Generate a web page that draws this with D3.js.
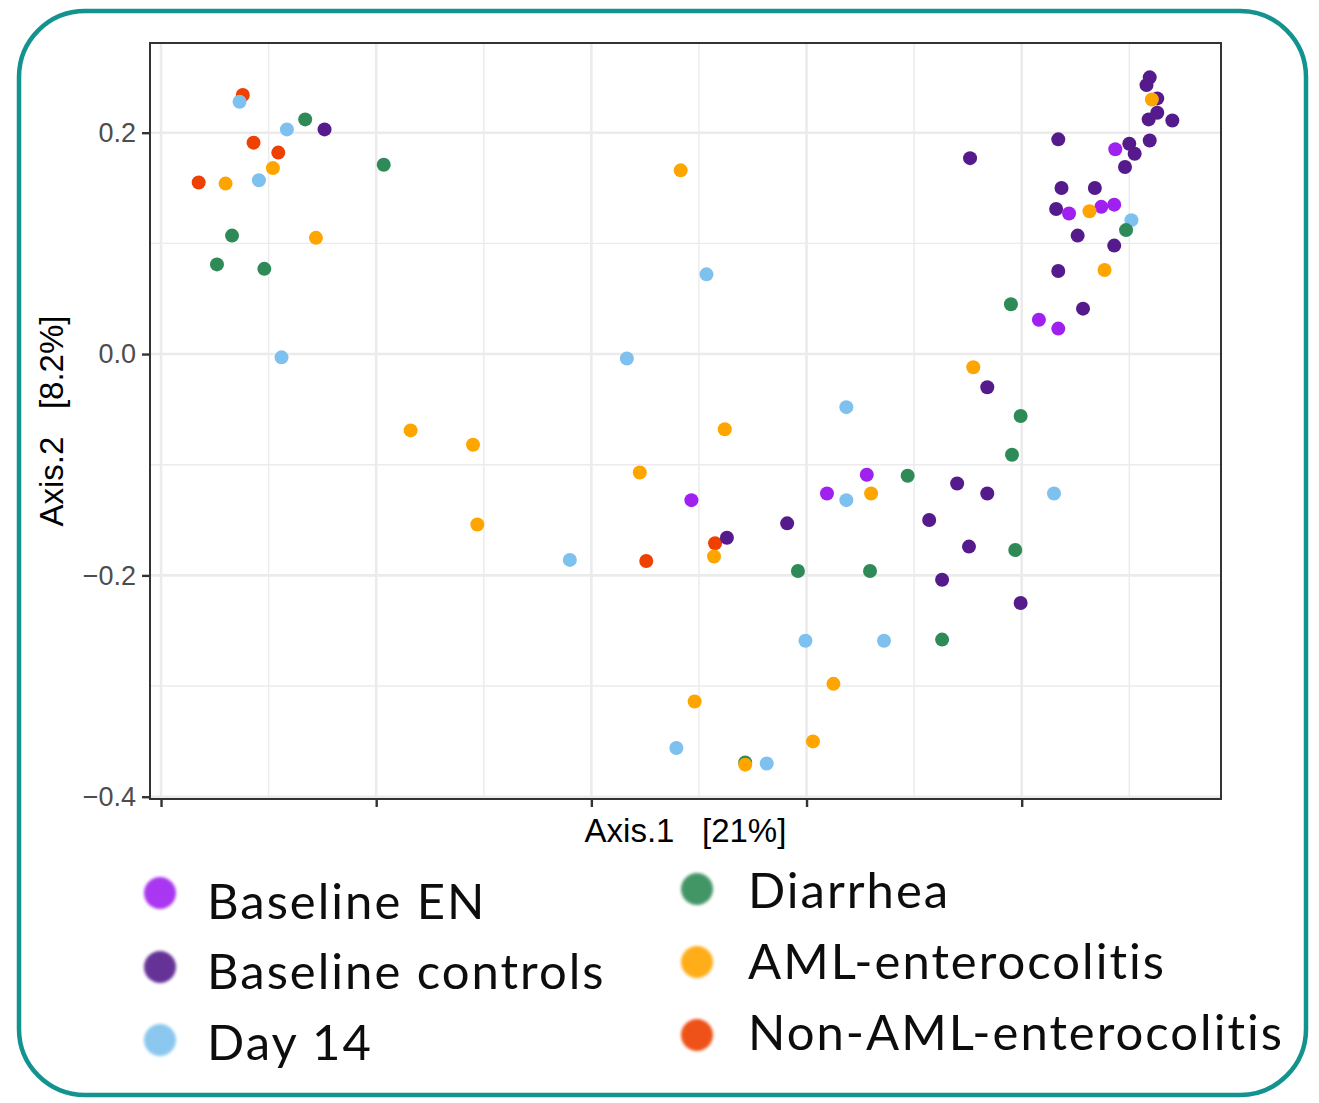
<!DOCTYPE html>
<html lang="en">
<head>
  <meta charset="UTF-8">
  <title>PCoA ordination by sample group</title>
  <script src="https://d3js.org/d3.v7.min.js"></script>
  <style>
    body { margin: 0; background: #fff; }
  </style>
</head>
<body>
  <svg id="chart" width="1319" height="1103"></svg>

  <script>
    // Ordination coordinates [Axis.1, Axis.2] per sample group
    const baselineEN = [
      [0.487, 0.185], [0.444, 0.127], [0.474, 0.133], [0.486, 0.135], [0.416, 0.031],
      [0.434, 0.023], [0.256, -0.109], [0.219, -0.126], [0.093, -0.132]
    ];
    const baselineControls = [
      [0.519, 0.250], [0.516, 0.243], [0.526, 0.231], [0.526, 0.218], [0.518, 0.212],
      [0.540, 0.211], [0.519, 0.193], [0.500, 0.190], [0.505, 0.181], [0.496, 0.169],
      [0.434, 0.194], [0.352, 0.177], [0.437, 0.150], [0.468, 0.150], [0.432, 0.131],
      [0.452, 0.107], [0.486, 0.098], [0.434, 0.075], [0.457, 0.041], [0.368, -0.030],
      [0.340, -0.117], [0.368, -0.126], [0.314, -0.150], [0.351, -0.174], [0.326, -0.204],
      [0.399, -0.225], [0.182, -0.153], [0.126, -0.166], [-0.248, 0.203]
    ];
    const day14 = [
      [-0.327, 0.228], [-0.283, 0.203], [-0.309, 0.157], [-0.288, -0.003], [0.107, 0.072],
      [0.033, -0.004], [-0.020, -0.186], [0.079, -0.356], [0.163, -0.370], [0.199, -0.259],
      [0.272, -0.259], [0.237, -0.048], [0.237, -0.132], [0.430, -0.126], [0.502, 0.121]
    ];
    const diarrhea = [
      [-0.266, 0.212], [-0.193, 0.171], [-0.334, 0.107], [-0.348, 0.081], [-0.304, 0.077],
      [0.497, 0.112], [0.390, 0.045], [0.399, -0.056], [0.391, -0.091], [0.294, -0.110],
      [0.394, -0.177], [0.192, -0.196], [0.259, -0.196], [0.326, -0.258], [0.143, -0.369]
    ];
    const amlEnterocolitis = [
      [-0.296, 0.168], [-0.340, 0.154], [-0.256, 0.105], [0.083, 0.166], [-0.168, -0.069],
      [-0.110, -0.082], [-0.106, -0.154], [0.045, -0.107], [0.124, -0.068], [0.114, -0.183],
      [0.096, -0.314], [0.143, -0.371], [0.206, -0.350], [0.225, -0.298], [0.260, -0.126],
      [0.355, -0.012], [0.477, 0.076], [0.463, 0.129], [0.521, 0.230]
    ];
    const nonAmlEnterocolitis = [
      [-0.324, 0.234], [-0.314, 0.191], [-0.291, 0.182], [-0.365, 0.155], [0.051, -0.187],
      [0.115, -0.171]
    ];

    const groupNames = ["Baseline EN", "Baseline controls", "Day 14",
                        "Diarrhea", "AML-enterocolitis", "Non-AML-enterocolitis"];
    const groupPoints = [baselineEN, baselineControls, day14,
                         diarrhea, amlEnterocolitis, nonAmlEnterocolitis];
    const yTicks = [0.2, 0.0, -0.2, -0.4];
    const xTicks = [-0.4, -0.2, 0.0, 0.2, 0.4];
    const yMinor = [0.1, -0.1, -0.3];
    const xMinor = [-0.3, -0.1, 0.1, 0.3, 0.5];

    const colors = ["#a020f0", "#551a8b", "#7fc1ee", "#2e8b57", "#ffa500", "#ee4000"];
    // layering of the point groups (bottom to top)
    const drawOrder = [5, 1, 0, 2, 3, 4];

    const svg = d3.select("#chart");
    const panel = { left: 150, right: 1221, top: 43, bottom: 799 };

    // outer rounded frame
    svg.append("rect")
      .attr("x", 19).attr("y", 11)
      .attr("width", 1287).attr("height", 1084)
      .attr("rx", 66).attr("ry", 66)
      .attr("fill", "none")
      .attr("stroke", "#12938f")
      .attr("stroke-width", 4.5);

    // ggplot-style 5% expansion around the data
    const all = groupPoints.flat();
    const xExt = d3.extent(all, d => d[0]);
    const yExt = d3.extent(all, d => d[1]);
    const xPad = (xExt[1] - xExt[0]) * 0.05;
    const yPad = (yExt[1] - yExt[0]) * 0.05;

    const x = d3.scaleLinear()
      .domain([xExt[0] - xPad, xExt[1] + xPad])
      .range([panel.left, panel.right]);
    const y = d3.scaleLinear()
      .domain([yExt[0] - yPad, yExt[1] + yPad])
      .range([panel.bottom, panel.top]);

    const W = panel.right - panel.left;
    const H = panel.bottom - panel.top;

    svg.append("rect")
      .attr("x", panel.left).attr("y", panel.top)
      .attr("width", W).attr("height", H)
      .attr("fill", "#fff");

    // grid: minor then major
    const grid = svg.append("g");
    grid.selectAll(".xmin").data(xMinor).join("line")
      .attr("x1", d => x(d)).attr("x2", d => x(d))
      .attr("y1", panel.top).attr("y2", panel.bottom)
      .attr("stroke", "#ebebeb").attr("stroke-width", 1.4);
    grid.selectAll(".ymin").data(yMinor).join("line")
      .attr("y1", d => y(d)).attr("y2", d => y(d))
      .attr("x1", panel.left).attr("x2", panel.right)
      .attr("stroke", "#ebebeb").attr("stroke-width", 1.4);
    grid.selectAll(".xmaj").data(xTicks).join("line")
      .attr("x1", d => x(d)).attr("x2", d => x(d))
      .attr("y1", panel.top).attr("y2", panel.bottom)
      .attr("stroke", "#ebebeb").attr("stroke-width", 2.6);
    grid.selectAll(".ymaj").data(yTicks).join("line")
      .attr("y1", d => y(d)).attr("y2", d => y(d))
      .attr("x1", panel.left).attr("x2", panel.right)
      .attr("stroke", "#ebebeb").attr("stroke-width", 2.6);

    // points
    const pts = svg.append("g");
    drawOrder.forEach(gi => {
      pts.selectAll(null).data(groupPoints[gi]).join("circle")
        .attr("cx", d => x(d[0]))
        .attr("cy", d => y(d[1]))
        .attr("r", 7)
        .attr("fill", colors[gi]);
    });

    // panel border
    svg.append("rect")
      .attr("x", panel.left).attr("y", panel.top)
      .attr("width", W).attr("height", H)
      .attr("fill", "none")
      .attr("stroke", "#333333")
      .attr("stroke-width", 2);

    // axes
    const yAxis = svg.append("g")
      .attr("transform", `translate(${panel.left},0)`)
      .call(d3.axisLeft(y).tickValues(yTicks).tickSize(8).tickPadding(6)
        .tickFormat(d => d3.format(".1f")(d).replace("-", "\u2212")));
    const xAxis = svg.append("g")
      .attr("transform", `translate(0,${panel.bottom})`)
      .call(d3.axisBottom(x).tickValues(xTicks).tickSize(8).tickFormat(""));
    [yAxis, xAxis].forEach(a => {
      a.select(".domain").remove();
      a.selectAll(".tick line").attr("stroke", "#333333").attr("stroke-width", 2.4);
    });
    yAxis.selectAll(".tick text")
      .attr("fill", "#4d4d4d")
      .style("font-family", "'Liberation Sans', Arial, sans-serif")
      .style("font-size", "27px");

    // axis titles
    svg.append("text")
      .attr("x", (panel.left + panel.right) / 2)
      .attr("y", 842)
      .attr("text-anchor", "middle")
      .attr("xml:space", "preserve")
      .style("font-family", "'Liberation Sans', Arial, sans-serif")
      .style("font-size", "33px")
      .text("Axis.1   [21%]");
    svg.append("text")
      .attr("transform", `translate(63,${(panel.top + panel.bottom) / 2}) rotate(-90)`)
      .attr("text-anchor", "middle")
      .attr("xml:space", "preserve")
      .style("font-family", "'Liberation Sans', Arial, sans-serif")
      .style("font-size", "33px")
      .text("Axis.2   [8.2%]");

    // legend, two columns of three
    const defs = svg.append("defs");
    defs.append("filter").attr("id", "soft")
      .attr("x", "-30%").attr("y", "-30%").attr("width", "160%").attr("height", "160%")
      .append("feGaussianBlur").attr("stdDeviation", 1.4);
    defs.append("filter").attr("id", "softText")
      .append("feGaussianBlur").attr("stdDeviation", 0.5);

    const legendPos = [
      { cx: 160, cy: 893, tx: 207, ty: 919 },
      { cx: 160, cy: 967, tx: 207, ty: 989 },
      { cx: 160, cy: 1040, tx: 207, ty: 1060 },
      { cx: 697, cy: 889, tx: 748, ty: 908 },
      { cx: 697, cy: 962, tx: 748, ty: 979 },
      { cx: 697, cy: 1035, tx: 748, ty: 1050 }
    ];
    const legend = svg.append("g");
    groupNames.forEach((name, i) => {
      const p = legendPos[i];
      legend.append("circle")
        .attr("cx", p.cx).attr("cy", p.cy).attr("r", 16)
        .attr("fill", colors[i])
        .attr("opacity", 0.9)
        .attr("filter", "url(#soft)");
      legend.append("text")
        .attr("x", p.tx).attr("y", p.ty)
        .attr("fill", "#111")
        .attr("filter", "url(#softText)")
        .style("font-family", "Lato, 'Open Sans', sans-serif")
        .style("font-size", "49px")
        .style("letter-spacing", "2px")
        .text(name);
    });
  </script>
</body>
</html>
